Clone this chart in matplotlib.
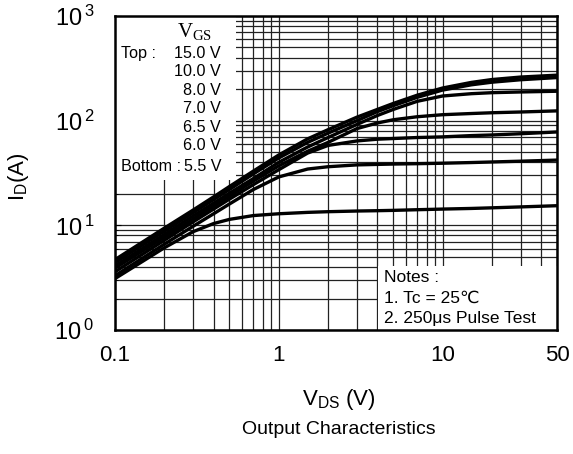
import matplotlib
matplotlib.use("Agg")
import matplotlib.pyplot as plt
from matplotlib.patches import Rectangle

plt.rcParams['font.family'] = ['Liberation Sans', 'DejaVu Sans']

# drain-source voltage (V), shared by all curves
vds = [0.1, 0.2, 0.3, 0.4, 0.5, 0.7, 1, 1.5, 2, 3, 4, 5, 7, 10, 15, 20, 30, 50]

# drain current (A) for each gate voltage
id_15v = [4.7, 9.4, 14.0, 18.7, 23.5, 33, 47, 67, 82, 108, 128, 146, 175, 205, 232, 247, 261, 272]
id_10v = [4.4, 8.8, 13.2, 17.6, 22.0, 31, 44, 62, 76, 100, 122, 139, 167, 196, 220, 233, 246, 258]
id_8v = [4.1, 8.2, 12.3, 16.3, 20.3, 28, 40, 56, 69, 92, 112, 128, 153, 172, 181, 185, 188, 191]
id_7v = [3.9, 7.7, 11.5, 15.3, 19.0, 26.5, 37, 51, 62, 84, 95, 102, 109, 114, 117, 119, 121, 124]
id_65v = [3.6, 7.2, 10.8, 14.3, 17.8, 24.5, 34, 49, 58, 64, 66.5, 67.5, 69, 70, 72, 73, 75, 78]
id_6v = [3.3, 6.6, 9.8, 12.9, 16.0, 22, 29, 34.5, 36.3, 37.8, 38.2, 38.5, 38.8, 39.2, 39.8, 40.3, 41, 42]
id_55v = [3.1, 6.1, 8.7, 10.4, 11.4, 12.4, 12.9, 13.3, 13.5, 13.7, 13.8, 13.9, 14.1, 14.3, 14.5, 14.7, 15.0, 15.4]

curves = [id_15v, id_10v, id_8v, id_7v, id_65v, id_6v, id_55v]

vgs_labels = ['15.0 V', '10.0 V', '8.0 V', '7.0 V', '6.5 V', '6.0 V', '5.5 V']
row_names = ['Top :', '', '', '', '', '', 'Bottom :']

xticks = [0.1, 1, 10, 50]
xticklabels = ['0.1', '1', '10', '50']
yticks = [1, 10, 100, 1000]
yticklabels = [r'$\mathregular{10^{\,0}}$', r'$\mathregular{10^{\,1}}$',
               r'$\mathregular{10^{\,2}}$', r'$\mathregular{10^{\,3}}$']

notes = ['Notes :', '1. Tc = 25\u2103', '2. 250\u03bcs Pulse Test']

fig = plt.figure(figsize=(5.73, 4.54), dpi=100)
ax = fig.add_axes([0.2007, 0.2731, 0.7714, 0.6917])

for cur in curves:
    ax.plot(vds, cur, color='black', lw=2.4, zorder=3, solid_joinstyle='round')

ax.set_xscale('log')
ax.set_yscale('log')
ax.set_xlim(0.1, 50)
ax.set_ylim(1, 1000)

ax.set_axisbelow(True)
ax.grid(True, which='both', color='#222222', lw=0.9)

ax.set_xticks(xticks)
ax.set_xticklabels(xticklabels)
ax.set_yticks(yticks)
ax.set_yticklabels(yticklabels)
ax.tick_params(which='both', direction='in')
ax.tick_params(axis='x', which='major', length=0, pad=11, labelsize=16)
ax.tick_params(axis='y', which='major', length=4, pad=15, labelsize=17)
ax.tick_params(axis='x', which='minor', length=0)
ax.tick_params(axis='y', which='minor', length=2.5)
for s in ax.spines.values():
    s.set_linewidth(1.8)

# white boxes that hide the grid behind the annotations
ax.add_patch(Rectangle((0, 0.478), 0.274, 0.522, transform=ax.transAxes,
                       facecolor='white', edgecolor='none', zorder=1.5))
ax.add_patch(Rectangle((0.595, 0), 0.405, 0.204, transform=ax.transAxes,
                       facecolor='white', edgecolor='none', zorder=1.5))

ax.text(0.181, 0.949, r'$\mathregular{V_{GS}}$', transform=ax.transAxes,
        family='Liberation Serif', fontsize=15, ha='center', va='center', zorder=4)
row_y = [0.882, 0.822, 0.763, 0.704, 0.646, 0.589, 0.522]
for name, lab, yy in zip(row_names, vgs_labels, row_y):
    ax.text(0.0136, yy, name, transform=ax.transAxes, fontsize=11.6,
            ha='left', va='center', zorder=4)
    ax.text(0.240, yy, lab, transform=ax.transAxes, fontsize=11.6,
            ha='right', va='center', zorder=4)

for txt, yy in zip(notes, [0.166, 0.102, 0.036]):
    ax.text(0.609, yy, txt, transform=ax.transAxes, fontsize=12.5,
            ha='left', va='center', zorder=4)

ax.set_xlabel(r'$\mathregular{V_{DS}}$ (V)', fontsize=16)
ax.xaxis.set_label_coords(0.507, -0.18)
ax.set_ylabel(r'$\mathregular{I_D}$(A)', fontsize=16)
ax.yaxis.set_label_coords(-0.19, 0.487)

fig.text(0.592, 0.053, 'Output Characteristics', fontsize=14,
         ha='center', va='center')

fig.savefig('out.png', dpi=100)
